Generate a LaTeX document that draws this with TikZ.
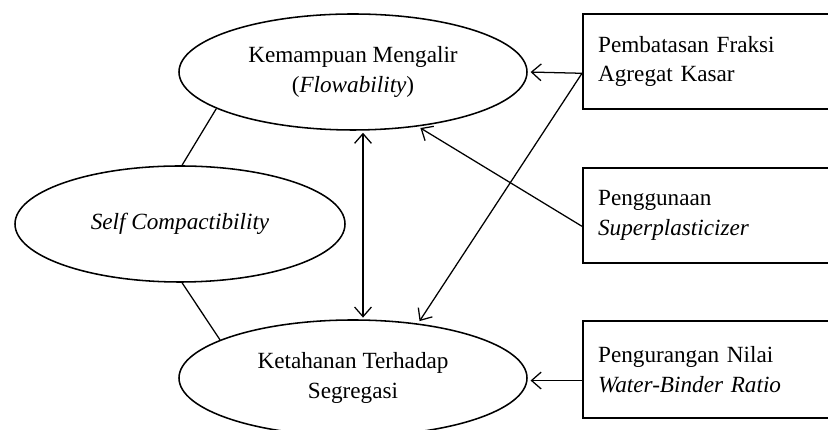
\documentclass[tikz,border=0pt]{standalone}
\usepackage{fontspec}
\setmainfont{Liberation Serif}
\usepackage{tikz}
\usetikzlibrary{arrows.meta, calc, shapes.geometric}

\begin{document}
\begin{tikzpicture}[every node/.style={font=\fontsize{16.5}{21}\selectfont},
	oval/.style={draw, ellipse, line width=1.1pt, minimum width=8.7cm, minimum height=2.9cm, align=center, inner sep=0pt},
	kotak/.style={draw, rectangle, line width=1.6pt, anchor=north west, minimum width=6.6cm, text width=5.85cm, align=left, inner xsep=0.375cm},
	panah/.style={line width=0.9pt, -{Straight Barb[length=2.4mm, width=4.2mm]}},
	panahdua/.style={line width=0.9pt, {Straight Barb[length=2.4mm, width=4.2mm]}-{Straight Barb[length=2.4mm, width=4.2mm]}}]
	\useasboundingbox (0, 0) rectangle (20.7, 10.75);
	% ellipses
	\node[oval] (flow) at (8.825, 8.95) {Kemampuan Mengalir\\(\textit{Flowability})};
	\node[oval, minimum width=8.25cm] (self) at (4.5, 5.15) {\textit{Self Compactibility}};
	\node[oval] (segr) at (8.825, 1.3) {Ketahanan Terhadap\\Segregasi};
	% boxes
	\node[kotak, minimum height=2.375cm] (fraksi) at (14.55, 10.425) {Pembatasan Fraksi\\Agregat Kasar};
	\node[kotak, minimum height=2.375cm] (sp) at (14.55, 6.575) {Penggunaan\\\textit{Superplasticizer}};
	\node[kotak, minimum height=2.425cm] (wb) at (14.55, 2.75) {Pengurangan Nilai\\\textit{Water-Binder Ratio}};
	\coordinate (F) at ($(fraksi.north west)!0.62!(fraksi.south west)$);
	\coordinate (S) at ($(sp.north west)!0.61!(sp.south west)$);
	\coordinate (W) at ($(wb.north west)!0.61!(wb.south west)$);
	% connectors
	\draw[line width=0.9pt] (flow.195) -- (self.88);
	\draw[line width=0.9pt] (self.272) -- (segr.164);
	\draw[panah, shorten >=2pt] (F) -- (flow.east);
	\draw[panah, shorten >=2pt] (F) -- (segr.40);
	\draw[panah, shorten >=2pt] (S) -- (flow.-40);
	\draw[panah, shorten >=2pt] (W) -- (W -| segr.east);
	\draw[panahdua, shorten >=2pt, shorten <=2pt] ($(flow.south)+(0.25, 0.02)$) -- ($(segr.north)+(0.25, -0.03)$);

\end{tikzpicture}
\end{document}
